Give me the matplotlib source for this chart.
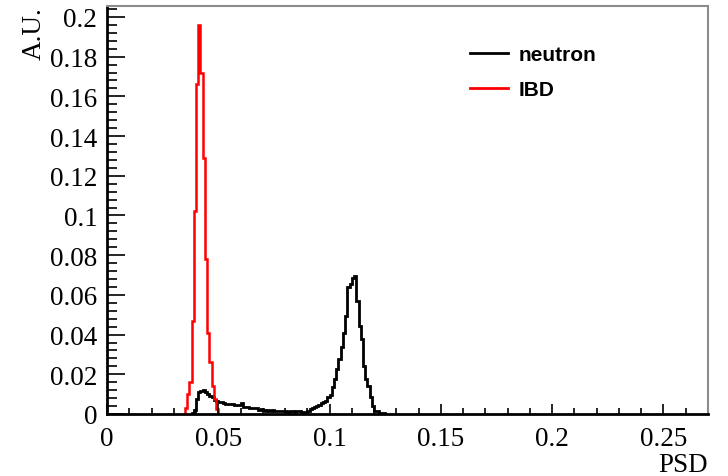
import numpy as np
import matplotlib
matplotlib.use('Agg')
import matplotlib.pyplot as plt
from matplotlib.ticker import MultipleLocator, FormatStrFormatter

bin_width = 0.001

# IBD histogram (red), first bin starts at 0.035
ibd_start = 0.035
ibd_values = [0.003, 0.010, 0.016, 0.047, 0.102, 0.166, 0.196, 0.172,
              0.129, 0.078, 0.041, 0.026, 0.014, 0.0075, 0.0025]

# neutron histogram (black), first bin starts at 0.038
neutron_start = 0.038
neutron_values = [
    0.0005, 0.002, 0.0075, 0.011, 0.0117, 0.0122, 0.0112, 0.010, 0.0092, 0.0086,   # 0.038-0.047
    0.0072, 0.0065, 0.0062, 0.006, 0.0055, 0.0052, 0.005, 0.005, 0.0048, 0.0045,   # 0.048-0.057
    0.0045, 0.0044, 0.0055, 0.0035, 0.0036, 0.0033, 0.003, 0.0032, 0.0028, 0.003,  # 0.058-0.067
    0.0022, 0.0024, 0.0021, 0.0017, 0.0019, 0.0016, 0.0018, 0.0015, 0.0017, 0.0014, # 0.068-0.077
    0.0016, 0.0013, 0.0015, 0.0012, 0.0016, 0.0013, 0.0012, 0.0015, 0.0013, 0.0012, # 0.078-0.087
    0.001, 0.0012, 0.0015, 0.0025, 0.003, 0.0035, 0.004, 0.0045, 0.0055, 0.006,    # 0.088-0.097
    0.0065, 0.0085, 0.0095, 0.0135, 0.0176, 0.0227, 0.0277, 0.0338, 0.041, 0.0495, # 0.098-0.107
    0.064, 0.0655, 0.0685, 0.0695, 0.057, 0.0445, 0.0378, 0.0243, 0.0176, 0.0143,  # 0.108-0.117
    0.0086, 0.004, 0.0017, 0.0015, 0.0004, 0.0003, 0.0003, 0.0002,                 # 0.118-0.125
]

x_ticks = [0, 0.05, 0.1, 0.15, 0.2, 0.25]
y_ticks = [0, 0.02, 0.04, 0.06, 0.08, 0.1, 0.12, 0.14, 0.16, 0.18, 0.2]

ibd_edges = ibd_start + bin_width * np.arange(len(ibd_values) + 1)
neutron_edges = neutron_start + bin_width * np.arange(len(neutron_values) + 1)

fig = plt.figure(figsize=(7.28, 4.77), dpi=100)
ax = fig.add_axes([107 / 728, 62 / 477, 601 / 728, 408 / 477])

ax.stairs(neutron_values, neutron_edges, color='black', linewidth=2, label='neutron')
ax.stairs(ibd_values, ibd_edges, color='red', linewidth=1.8, label='IBD')

ax.set_xlim(0, 0.27)
ax.set_ylim(0, 0.2055)

ax.xaxis.set_major_locator(plt.FixedLocator(x_ticks))
ax.yaxis.set_major_locator(plt.FixedLocator(y_ticks))
ax.xaxis.set_minor_locator(MultipleLocator(0.01))
ax.yaxis.set_minor_locator(MultipleLocator(0.004))
ax.xaxis.set_major_formatter(FormatStrFormatter('%g'))
ax.yaxis.set_major_formatter(FormatStrFormatter('%g'))

ax.tick_params(axis='both', which='both', direction='in', top=False, right=False,
               width=1.2, color='black')
ax.tick_params(axis='x', which='major', length=7.5, pad=8.5)
ax.tick_params(axis='x', which='minor', length=4)
ax.tick_params(axis='y', which='major', length=13, pad=7)
ax.tick_params(axis='y', which='minor', length=7)
for lab in ax.get_xticklabels() + ax.get_yticklabels():
    lab.set_fontfamily('Liberation Serif')
    lab.set_fontsize(19.5)

for side in ['left', 'bottom']:
    ax.spines[side].set_linewidth(2)
    ax.spines[side].set_color('black')
for side in ['top', 'right']:
    ax.spines[side].set_linewidth(1.5)
    ax.spines[side].set_color('#8c8c8c')

ax.set_ylabel('A.U.', family='Liberation Serif', fontsize=19.5, loc='top')
ax.yaxis.set_label_coords(-0.1, 1.0)
ax.set_xlabel('PSD', family='Liberation Serif', fontsize=19.5, loc='right')
ax.xaxis.set_label_coords(1.0, -0.092)

leg = ax.legend(loc='upper left', bbox_to_anchor=(470 / 728, 1 - 46 / 477),
                bbox_transform=fig.transFigure, frameon=False, borderpad=0,
                borderaxespad=0, handlelength=1.8, handletextpad=0.55,
                labelspacing=0.78,
                prop={'family': 'Liberation Sans', 'weight': 'bold', 'size': 15})
for h in leg.get_lines():
    h.set_linewidth(2)

fig.savefig('out.png', dpi=100)
